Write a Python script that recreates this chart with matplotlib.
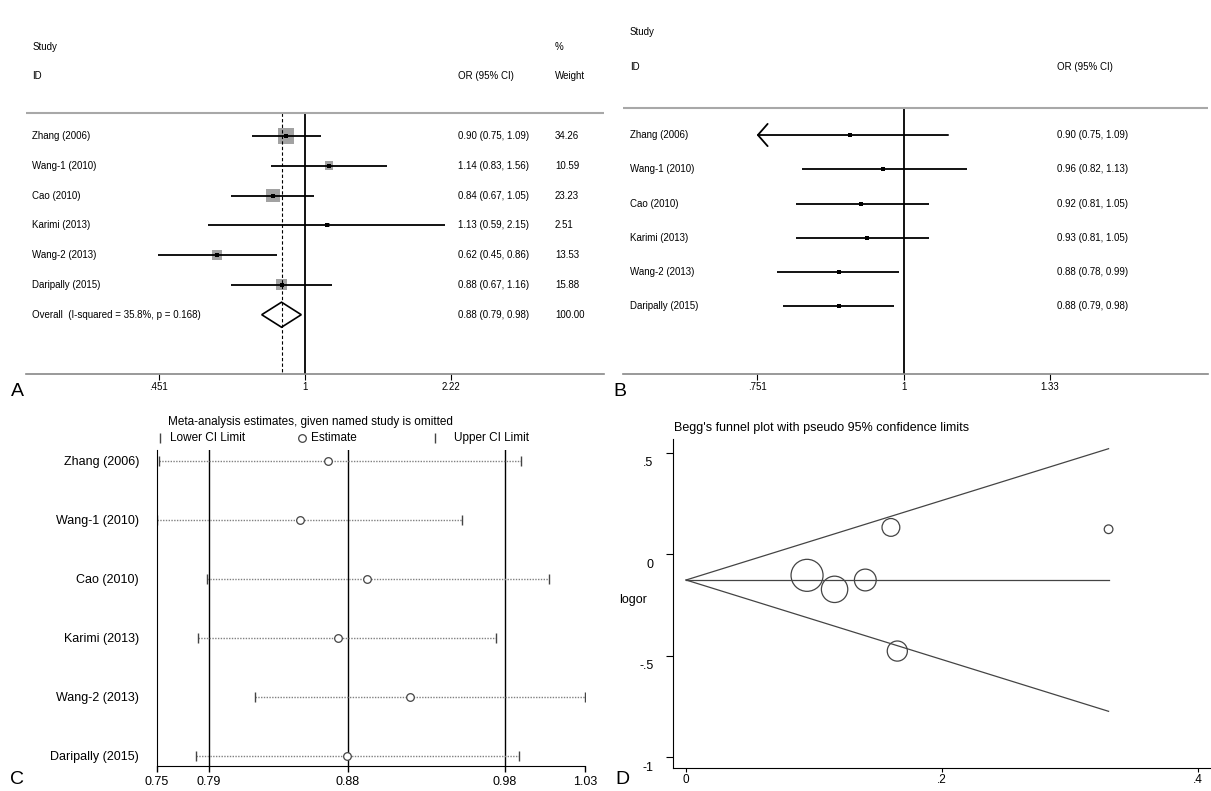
import numpy as np
import matplotlib.pyplot as plt
from matplotlib.transforms import ScaledTranslation

plt.rcParams['font.family'] = ['Liberation Sans', 'DejaVu Sans']

W, H = 1211, 791

studies = ['Zhang (2006)', 'Wang-1 (2010)', 'Cao (2010)', 'Karimi (2013)',
           'Wang-2 (2013)', 'Daripally (2015)']

# panel A: individual study estimates
or_a = [0.90, 1.14, 0.84, 1.13, 0.62, 0.88]
lo_a = [0.75, 0.83, 0.67, 0.59, 0.45, 0.67]
hi_a = [1.09, 1.56, 1.05, 2.15, 0.86, 1.16]
weight_a = [34.26, 10.59, 23.23, 2.51, 13.53, 15.88]
overall_a = [0.88, 0.79, 0.98]
overall_weight = 100.00
overall_label = 'Overall  (I-squared = 35.8%, p = 0.168)'
ticks_a = [0.451, 1, 2.22]
ticklabels_a = ['.451', '1', '2.22']

# panel B: cumulative estimates
or_b = [0.90, 0.96, 0.92, 0.93, 0.88, 0.88]
lo_b = [0.75, 0.82, 0.81, 0.81, 0.78, 0.79]
hi_b = [1.09, 1.13, 1.05, 1.05, 0.99, 0.98]
ticks_b = [0.751, 1, 1.33]
ticklabels_b = ['.751', '1', '1.33']

# panel C: leave-one-out estimates
est_c = [0.8632, 0.8453, 0.8882, 0.8699, 0.9162, 0.8758]
lo_c = [0.7535, 0.7523, 0.7845, 0.7788, 0.8158, 0.7773]
hi_c = [0.9885, 0.9503, 1.0066, 0.9724, 1.0299, 0.9873]
pooled_c = [0.786, 0.876, 0.978]
ticks_c = [0.7523, 0.786, 0.876, 0.978, 1.0299]
ticklabels_c = ['0.75', '0.79', '0.88', '0.98', '1.03']

# panel D: Begg's funnel
logor_d = [-0.105, 0.131, -0.174, 0.122, -0.478, -0.128]
se_d = [0.0945, 0.160, 0.116, 0.330, 0.165, 0.140]
pooled_logor = -0.128
yticks_d = [0.5, 0, -0.5, -1]
yticklabels_d = ['.5', '0', '-.5', '-1']
xticks_d = [0, 0.2, 0.4]
xticklabels_d = ['0', '.2', '.4']

fig = plt.figure(figsize=(W / 100, H / 100), dpi=100)


def px_axes(left, top, right, bottom):
    # axes placed by pixel box of the reference image
    return fig.add_axes([left / W, 1 - bottom / H, (right - left) / W, (bottom - top) / H])


def fmt_ci(o, l, h):
    return f'{o:.2f} ({l:.2f}, {h:.2f})'


rows = np.arange(len(studies))

# ---------------- A ----------------
axA = px_axes(26, 20, 604, 374)
axA.set_xscale('log')
axA.set_xlim(0.2187, 5.10)
axA.set_ylim(7.99, -3.89)
side = 2.733 * np.sqrt(weight_a) * 0.72
axA.scatter(or_a, rows, marker='s', s=side ** 2, color='#a2a2a2', lw=0, zorder=2)
axA.hlines(rows, lo_a, hi_a, color='black', lw=1.3, zorder=3)
axA.scatter(or_a, rows, marker='s', s=9, color='black', lw=0, zorder=4)
est, lo, hi = overall_a
yo = len(studies)
axA.fill([lo, est, hi, est, lo], [yo, yo - 0.42, yo, yo + 0.42, yo],
         facecolor='none', edgecolor='black', lw=1.2, zorder=3)
axA.vlines(1, -0.77, 7.99, color='black', lw=1.3)
axA.vlines(est, -0.77, 7.99, color='black', lw=0.8, linestyles=(0, (3, 2)))
axA.axhline(-0.77, color='#a8a8a8', lw=1.5)
for s in ['top', 'left', 'right']:
    axA.spines[s].set_visible(False)
axA.spines['bottom'].set_color('#888888')
axA.spines['bottom'].set_linewidth(1.2)
axA.set_yticks([])
axA.set_xticks(ticks_a)
axA.set_xticklabels(ticklabels_a, fontsize=7)
axA.xaxis.set_minor_locator(plt.NullLocator())
axA.tick_params(axis='x', length=4, width=0.8, pad=2)
tA = axA.get_yaxis_transform()
fsA = 7
axA.text(0.0105, -3.0, 'Study', transform=tA, fontsize=fsA, va='center')
axA.text(0.0105, -2.0, 'ID', transform=tA, fontsize=fsA, va='center')
axA.text(0.747, -2.0, 'OR (95% CI)', transform=tA, fontsize=fsA, va='center')
axA.text(0.915, -3.0, '%', transform=tA, fontsize=fsA, va='center')
axA.text(0.915, -2.0, 'Weight', transform=tA, fontsize=fsA, va='center')
for i, name in enumerate(studies):
    axA.text(0.0105, i, name, transform=tA, fontsize=fsA, va='center')
    axA.text(0.747, i, fmt_ci(or_a[i], lo_a[i], hi_a[i]), transform=tA, fontsize=fsA, va='center')
    axA.text(0.915, i, f'{weight_a[i]:.2f}', transform=tA, fontsize=fsA, va='center')
axA.text(0.0105, yo, overall_label, transform=tA, fontsize=fsA, va='center')
axA.text(0.747, yo, fmt_ci(est, lo, hi), transform=tA, fontsize=fsA, va='center')
axA.text(0.915, yo, f'{overall_weight:.2f}', transform=tA, fontsize=fsA, va='center')

# ---------------- B ----------------
axB = px_axes(623, 15, 1208, 374)
axB.set_xscale('log')
axB.set_xlim(0.5776, 1.811)
axB.set_ylim(6.97, -3.5)
for i in rows:
    if lo_b[i] < ticks_b[0]:
        axB.annotate('', xy=(lo_b[i], i), xytext=(hi_b[i], i),
                     arrowprops=dict(arrowstyle='->, head_length=0.7, head_width=0.8',
                                     color='black', lw=1.3, shrinkA=0, shrinkB=0))
    else:
        axB.hlines(i, lo_b[i], hi_b[i], color='black', lw=1.3)
axB.scatter(or_b, rows, marker='s', s=9, color='black', lw=0, zorder=4)
axB.vlines(1, -0.79, 6.97, color='black', lw=1.3)
axB.axhline(-0.79, color='#a8a8a8', lw=1.5)
for s in ['top', 'left', 'right']:
    axB.spines[s].set_visible(False)
axB.spines['bottom'].set_color('#888888')
axB.spines['bottom'].set_linewidth(1.2)
axB.set_yticks([])
axB.set_xticks(ticks_b)
axB.set_xticklabels(ticklabels_b, fontsize=7)
axB.xaxis.set_minor_locator(plt.NullLocator())
axB.tick_params(axis='x', length=4, width=0.8, pad=2)
tB = axB.get_yaxis_transform()
axB.text(0.012, -3.0, 'Study', transform=tB, fontsize=fsA, va='center')
axB.text(0.012, -1.98, 'ID', transform=tB, fontsize=fsA, va='center')
axB.text(0.742, -1.98, 'OR (95% CI)', transform=tB, fontsize=fsA, va='center')
for i, name in enumerate(studies):
    axB.text(0.012, i, name, transform=tB, fontsize=fsA, va='center')
    axB.text(0.742, i, fmt_ci(or_b[i], lo_b[i], hi_b[i]), transform=tB, fontsize=fsA, va='center')

# ---------------- C ----------------
axC = px_axes(157, 450, 585, 766)
axC.set_xlim(ticks_c[0], ticks_c[-1])
axC.set_ylim(5.17, -0.186)
for v in pooled_c:
    axC.axvline(v, color='black', lw=1)
axC.hlines(rows, lo_c, hi_c, colors='#808080', linestyles=(0, (1, 1)), lw=1)
axC.plot(lo_c, rows, '|', ms=7, color='#444444', mew=1)
axC.plot(hi_c, rows, '|', ms=7, color='#444444', mew=1)
axC.plot(est_c, rows, 'o', mfc='white', mec='#444444', ms=5.5, mew=0.9, zorder=5)
axC.set_yticks(rows)
axC.set_yticklabels(studies, fontsize=9)
axC.tick_params(axis='y', length=0, pad=13)
axC.set_xticks(ticks_c)
axC.set_xticklabels(ticklabels_c, fontsize=9)
axC.tick_params(axis='x', length=4, width=1, pad=3)
for s in ['top', 'right']:
    axC.spines[s].set_visible(False)
fig.text(310 / W, 1 - 422 / H, 'Meta-analysis estimates, given named study is omitted',
         ha='center', va='center', fontsize=8.5)
tC = axC.transAxes
yl = 1.038
axC.plot([0.007], [yl], '|', ms=7, color='#444444', transform=tC, clip_on=False)
axC.text(0.030, yl, 'Lower CI Limit', transform=tC, fontsize=8.5, va='center')
axC.plot([0.339], [yl], 'o', mfc='white', mec='#444444', ms=5.5, mew=0.9,
         transform=tC, clip_on=False)
axC.text(0.360, yl, 'Estimate', transform=tC, fontsize=8.5, va='center')
axC.plot([0.650], [yl], '|', ms=7, color='#444444', transform=tC, clip_on=False)
axC.text(0.694, yl, 'Upper CI Limit', transform=tC, fontsize=8.5, va='center')

# ---------------- D ----------------
axD = px_axes(673, 439, 1211, 768)
axD.set_xlim(-0.0102, 0.410)
axD.set_ylim(-1.054, 0.5665)
se_line = np.array([0, max(se_d)])
axD.plot(se_line, pooled_logor + 1.96 * se_line, color='#444444', lw=0.9)
axD.plot(se_line, pooled_logor - 1.96 * se_line, color='#444444', lw=0.9)
axD.plot(se_line, [pooled_logor, pooled_logor], color='#444444', lw=0.9)
diam = 5.47 * np.sqrt(weight_a) * 0.72
axD.scatter(se_d, logor_d, s=diam ** 2, facecolors='none', edgecolors='#444444', lw=0.9)
axD.set_yticks(yticks_d)
axD.set_yticklabels(yticklabels_d, fontsize=9)
axD.set_xticks(xticks_d)
axD.set_xticklabels(xticklabels_d, fontsize=8.5)
axD.tick_params(axis='y', length=5, width=0.8, pad=9)
axD.tick_params(axis='x', length=3, width=0.8, pad=1)
shift = ScaledTranslation(0, -0.09, fig.dpi_scale_trans)
for lab in axD.get_yticklabels():
    lab.set_transform(lab.get_transform() + shift)
for s in ['top', 'right']:
    axD.spines[s].set_visible(False)
fig.text(674 / W, 1 - 428 / H, "Begg's funnel plot with pseudo 95% confidence limits",
         ha='left', va='center', fontsize=9)
fig.text(633 / W, 1 - 600 / H, 'logor', ha='center', va='center', fontsize=9)

# panel letters
for letter, (px, py) in zip('ABCD', [(17, 392), (620, 392), (17, 779), (622, 779)]):
    fig.text(px / W, 1 - py / H, letter, ha='center', va='center', fontsize=14)

fig.savefig('out.png', dpi=100, facecolor='white')
